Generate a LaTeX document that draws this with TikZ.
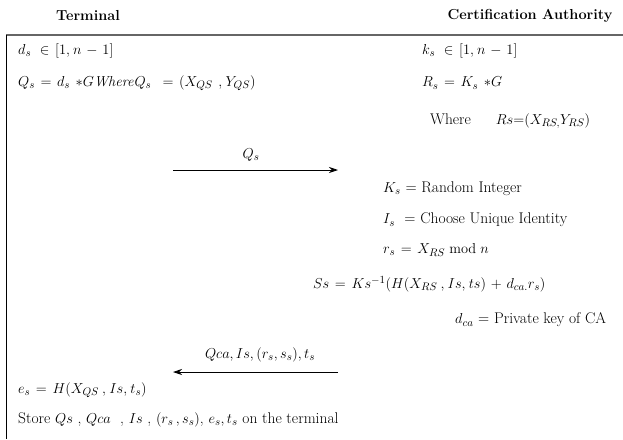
\documentclass[tikz,border=0pt]{standalone}
\usetikzlibrary{arrows.meta}
\newcommand{\widemath}{\thinmuskip=4mu\medmuskip=6mu plus 2mu\thickmuskip=7mu plus 3mu}
\tikzset{
  txt/.style={anchor=west, inner sep=0pt, font=\fontsize{15.5}{18}\selectfont\widemath},
  hdr/.style={inner sep=0pt, font=\fontsize{14.5}{17}\selectfont\bfseries},
  msg/.style={-{Stealth[length=9pt,width=6pt]}, line width=0.8pt},
  rulebar/.style={draw=gray!80!black, line width=1.6pt}
}
\begin{document}
\begin{tikzpicture}[x=1pt,y=-1pt]
\useasboundingbox (0,0) rectangle (623,439);
\node[hdr] (hT) at (88,16) {Terminal};
\node[hdr] (hC) at (530,16) {Certification Authority};
\coordinate (tl) at (6,35);
\coordinate (tr) at (623,35);
\coordinate (bl) at (6,439);
\draw[rulebar] (tl) -- (tr);
\draw[line width=1pt] (tl) -- (bl);
% terminal side
\node[txt] (t1) at (18,51) {$d_s\, \in [1,n-1]$};
\node[txt] (t2) at (18,83) {$Q_s = d_s\; {*}G\mathit{Where}Q_s\; = (X_{QS}\;,Y_{QS})$};
% CA side
\node[txt] (c1) at (422,51) {$k_s\, \in [1,n-1]$};
\node[txt] (c2) at (422,83) {$R_s = K_s\; {*}G$};
\node[txt] (c3) at (430,121) {Where\quad\ \ $Rs{=}(X_{RS,}Y_{RS})$};
% message 1
\coordinate (m1s) at (173,170);
\coordinate (m1e) at (338,170);
\draw[msg] (m1s) -- (m1e);
\node[txt, anchor=center] (m1l) at (251,155) {$Q_s$};
\node[txt] (c4) at (383,189) {$K_s$ = Random Integer};
\node[txt] (c5) at (383,220) {$I_s$ \ = Choose Unique Identity};
\node[txt] (c6) at (383,250) {$r_s = X_{RS} \bmod n$};
\node[txt] (c7) at (313,284) {$Ss = Ks^{-1}(H(X_{RS}\,,Is,ts) + d_{ca.}r_s)$};
\node[txt] (c8) at (455,320) {$d_{ca}$ = Private key of CA};
% message 2
\coordinate (m2s) at (338,372);
\coordinate (m2e) at (173,372);
\draw[msg] (m2s) -- (m2e);
\node[txt, anchor=center] (m2l) at (260,355) {\thinmuskip=3mu$Qca,Is,\mathbf{(}r_s,s_s\mathbf{)},t_s$};
\node[txt] (t3) at (18,390) {$e_s = H(X_{QS}\,,Is,t_s)$};
\node[txt] (t4) at (18,420) {\thinmuskip=3mu Store $Qs$ , $Qca$ \ , $Is$ , $(r_s\,,s_s)$, $e_s,t_s$ on the terminal};
\end{tikzpicture}
\end{document}
